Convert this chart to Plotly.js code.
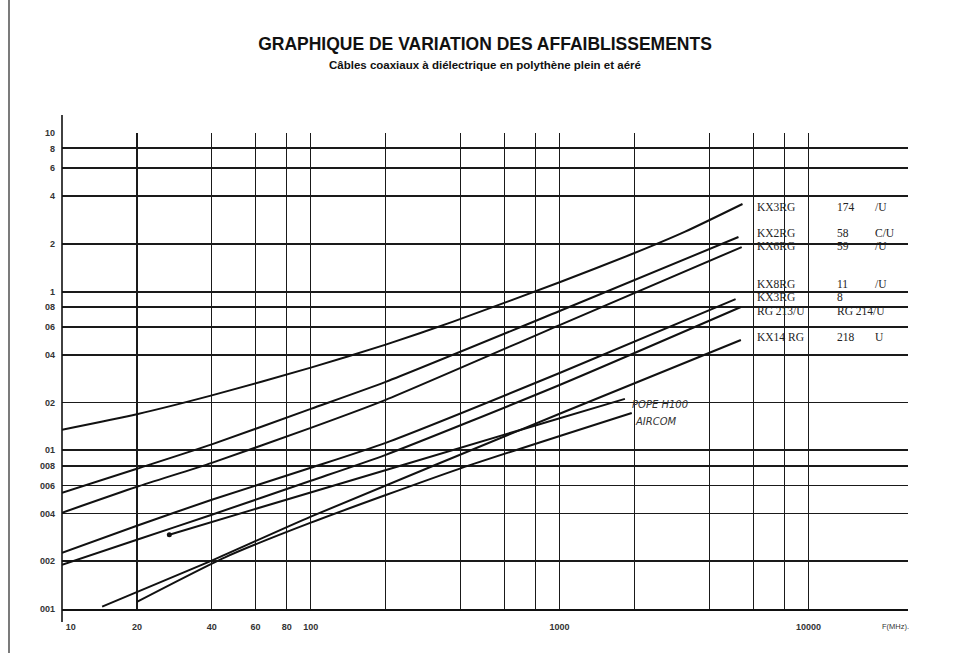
<!DOCTYPE html>
<html><head><meta charset="utf-8">
<script src="https://cdn.plot.ly/plotly-3.0.1.min.js"></script>
<style>html,body{margin:0;padding:0;background:#fff}#chart{width:953px;height:653px}</style>
</head><body><div id="chart"></div>
<script>
// ---- data (frequency in MHz, attenuation in dB/m) ----
const kx3rg174F = [10, 20, 40, 100, 200, 371, 1000, 1943, 3196, 5434];
const kx3rg174A = [0.135, 0.169, 0.222, 0.332, 0.464, 0.645, 1.146, 1.72, 2.39, 3.57];
const kx2rg58F = [10, 20, 40, 100, 200, 1000, 5235];
const kx2rg58A = [0.054, 0.0765, 0.109, 0.1825, 0.270, 0.755, 2.21];
const kx6rg59F = [10, 20, 40, 100, 200, 1000, 5394];
const kx6rg59A = [0.0404, 0.0589, 0.0834, 0.1385, 0.208, 0.616, 1.91];
const kx3rg8F = [10, 20, 40, 100, 200, 1000, 5098];
const kx3rg8A = [0.0226, 0.0335, 0.0488, 0.0776, 0.1115, 0.307, 0.898];
const rg213F = [10, 20, 40, 100, 200, 1000, 5354];
const rg213A = [0.019, 0.0273, 0.0393, 0.0643, 0.0937, 0.258, 0.80];
const kx14rgF = [14.5, 40, 100, 1000, 5354];
const kx14rgA = [0.01035, 0.0202, 0.0382, 0.170, 0.496];
const aircomF = [20, 45, 100, 400, 1950];
const aircomA = [0.0111, 0.0211, 0.035, 0.077, 0.172];
const popeF = [27, 240, 1830];
const popeA = [0.0294, 0.0818, 0.211];

const gridFreqs = [10, 20, 40, 60, 80, 100, 200, 400, 600, 800, 1000, 2000, 4000, 6000, 8000, 10000];
const freqLabels = ['\u00a0\u00a0\u00a0\u00a0\u00a0\u00a0\u00a010', '20', '40', '60', '80', '100', '', '', '', '', '1000', '', '', '', '', '10000'];
const gridAtt = [0.01, 0.02, 0.04, 0.06, 0.08, 0.1, 0.2, 0.4, 0.6, 0.8, 1, 2, 4, 6, 8, 10];
const attLabels = ['001', '002', '004', '006', '008', '01', '02', '04', '06', '08', '1', '2', '4', '6', '8', '10'];

const cableNames = ['KX3RG', 'KX2RG', 'KX6RG', 'KX8RG', 'KX3RG', 'RG 213/U', 'KX14 RG'];
const rgNumbers = ['174', '58', '59', '11', '8', 'RG 214/U', '218'];
const rgSuffix = ['/U', 'C/U', '/U', '/U', '', '', 'U'];
const handNames = ['POPE H100', 'AIRCOM'];

// ---- presentation ----
const labelRowsPx = [207, 232.5, 246, 284, 297, 310.5, 337];
const handRowsPx = [404, 421];
const plotL = 62, plotR = 908, plotT = 133, plotB = 609;
const px2paperX = px => (px - plotL) / (plotR - plotL);
const px2paperY = py => (plotB - py) / (plotB - plotT);

const lineStyle = {color: '#111', width: 2, shape: 'spline', smoothing: 0.6};
const series = [
  [kx3rg174F, kx3rg174A], [kx2rg58F, kx2rg58A], [kx6rg59F, kx6rg59A],
  [kx3rg8F, kx3rg8A], [rg213F, rg213A], [kx14rgF, kx14rgA],
  [aircomF, aircomA], [popeF, popeA]
];
const traces = series.map(s => ({
  x: s[0], y: s[1], type: 'scatter', mode: 'lines',
  line: lineStyle, hoverinfo: 'skip', showlegend: false
}));
traces.push({x: [popeF[0]], y: [popeA[0]], type: 'scatter', mode: 'markers',
  marker: {color: '#111', size: 5}, hoverinfo: 'skip', showlegend: false});

const annotations = [];
const serif = {family: 'Liberation Serif, Times New Roman, serif', size: 11.5, color: '#222'};
labelRowsPx.forEach((py, i) => {
  [[756, cableNames[i]], [836, rgNumbers[i]], [874, rgSuffix[i]]].forEach(([px, t]) => {
    if (!t) return;
    annotations.push({xref: 'paper', yref: 'paper', x: px2paperX(px), y: px2paperY(py),
      xanchor: 'left', yanchor: 'middle', text: t, showarrow: false, font: serif, borderpad: 0});
  });
});
handRowsPx.forEach((py, i) => {
  annotations.push({xref: 'paper', yref: 'paper', x: px2paperX(i === 0 ? 631 : 634), y: px2paperY(py),
    xanchor: 'left', yanchor: 'middle', text: '<i>' + handNames[i] + '</i>', showarrow: false,
    font: {family: 'DejaVu Sans, sans-serif', size: 10, color: '#333'}, borderpad: 0});
});
annotations.push({xref: 'paper', yref: 'paper', x: px2paperX(880), y: px2paperY(626),
  xanchor: 'left', yanchor: 'middle', text: 'F(MHz).', showarrow: false,
  font: {family: 'Liberation Sans, Arial, sans-serif', size: 7.5, color: '#333'}});
annotations.push({xref: 'paper', yref: 'paper', x: 0.5, y: px2paperY(65),
  xanchor: 'center', yanchor: 'middle',
  text: 'Câbles coaxiaux à diélectrique en polythène plein et aéré', showarrow: false,
  font: {family: 'Liberation Sans, Arial, sans-serif', size: 11.5, color: '#111', weight: 'bold'}});

const shapes = [
  {type: 'rect', xref: 'x', yref: 'y', x0: 5650, x1: 26000, y0: 0.47, y1: 4.4,
    fillcolor: '#fff', line: {width: 0}, layer: 'below'},
  {type: 'line', xref: 'paper', yref: 'paper', x0: 0, x1: 0, y0: px2paperY(622), y1: px2paperY(115),
    line: {color: '#111', width: 1.6}},
  {type: 'line', xref: 'paper', yref: 'paper', x0: px2paperX(9), x1: px2paperX(9), y0: px2paperY(653), y1: px2paperY(0),
    line: {color: '#222', width: 1.2}}
];

const layout = {
  width: 953, height: 653,
  margin: {l: plotL, r: 953 - plotR, t: plotT, b: 653 - plotB},
  paper_bgcolor: '#fff', plot_bgcolor: '#fff',
  title: {text: '<b>GRAPHIQUE DE VARIATION DES AFFAIBLISSEMENTS</b>', x: 0.5, xref: 'paper',
    y: 1 - 44 / 653, yref: 'container', yanchor: 'middle',
    font: {family: 'Liberation Sans, Arial, sans-serif', size: 17.5, color: '#111'}},
  xaxis: {type: 'log', range: [1, 4.4003], tickvals: gridFreqs, ticktext: freqLabels,
    showgrid: true, gridcolor: '#1a1a1a', gridwidth: 1.3, zeroline: false,
    showline: true, linecolor: '#111', linewidth: 1.6, ticks: '', ticklabelstandoff: 9,
    tickfont: {family: 'Liberation Sans, Arial, sans-serif', size: 9, color: '#333', weight: 'bold'}},
  yaxis: {type: 'log', range: [-2, 1], tickvals: gridAtt, ticktext: attLabels,
    showgrid: true, gridcolor: '#1a1a1a', gridwidth: 1.8, zeroline: false,
    showline: false, ticks: '', ticklabelstandoff: 6,
    tickfont: {family: 'Liberation Sans, Arial, sans-serif', size: 9, color: '#333', weight: 'bold'}},
  annotations: annotations,
  shapes: shapes,
  showlegend: false
};

Plotly.newPlot('chart', traces, layout, {staticPlot: true, displayModeBar: false});
</script>
</body></html>
